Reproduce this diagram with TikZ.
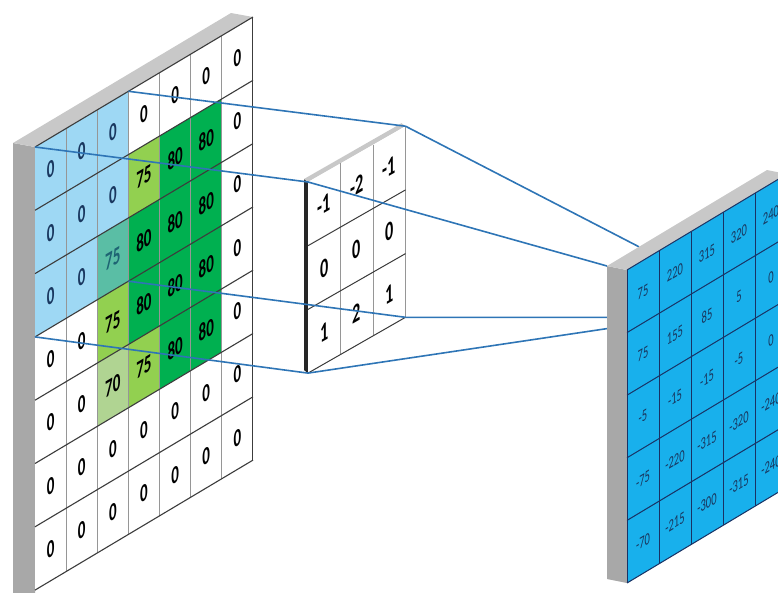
\documentclass[tikz,border=0pt]{standalone}
\usepackage{fontspec}
\setmainfont{Carlito}
\usepackage{xcolor}
\definecolor{linkblue}{RGB}{46, 117, 182}
\definecolor{fieldblue}{RGB}{158, 216, 244}
\definecolor{mapblue}{RGB}{24, 176, 236}
\definecolor{deepgreen}{RGB}{0, 176, 80}
\definecolor{limegreen}{RGB}{146, 208, 80}
\definecolor{tealmix}{RGB}{90, 190, 165}
\definecolor{sagegreen}{RGB}{176, 212, 146}
\definecolor{sidegray}{RGB}{168, 168, 168}
\definecolor{topgray}{RGB}{200, 200, 200}
\definecolor{colgray}{RGB}{150, 150, 150}
\definecolor{rowdark}{RGB}{60, 60, 60}
\definecolor{navytext}{RGB}{25, 55, 95}
\definecolor{tealtext}{RGB}{30, 100, 115}
\definecolor{mapline}{RGB}{25, 50, 100}
\usetikzlibrary{calc}

\begin{document}
\begin{tikzpicture}[x=1pt, y=-1pt,
    ingrid/.style={shift={(35,147)}, x={(31.14pt,18.57pt)}, y={(0pt,-63.3pt)}},
    kgrid/.style={shift={(308,182)}, x={(32.5pt,18.6pt)}, y={(0pt,-63.7pt)}},
    outgrid/.style={shift={(627,270)}, x={(32pt,19.2pt)}, y={(0pt,-62.6pt)}},
    incell/.style={cm={0.6,0.36,0,1,(0,0)}, inner sep=0pt, font=\fontsize{25}{25}\selectfont\bfseries},
    kcell/.style={cm={0.6,0.345,0,1,(0,0)}, inner sep=0pt, font=\fontsize{27}{27}\selectfont\bfseries},
    outcell/.style={cm={0.62,0.37,0,1,(0,0)}, inner sep=0pt, font=\fontsize{17}{17}\selectfont, text=navytext},
    link/.style={linkblue, line width=1.6pt}]
    \useasboundingbox (0,0) rectangle (778,592);
    \clip (0,0) rectangle (778,592);

    % Input image with receptive field
    \begin{scope}[ingrid]
        \fill[sidegray] (0,0) -- (0,7.2) -- ++(-22pt,4pt) -- (-22pt,4pt) -- cycle;
        \fill[topgray] (0,0) -- (7,0) -- ++(-22pt,4pt) -- (-22pt,4pt) -- cycle;
        \foreach \row [count=\r from 0] in {
            {0/fieldblue/navytext, 0/fieldblue/navytext, 0/fieldblue/navytext, 0/white/black, 0/white/black, 0/white/black, 0/white/black},
            {0/fieldblue/navytext, 0/fieldblue/navytext, 0/fieldblue/navytext, 75/limegreen/black, 80/deepgreen/black, 80/deepgreen/black, 0/white/black},
            {0/fieldblue/navytext, 0/fieldblue/navytext, 75/tealmix/tealtext, 80/deepgreen/black, 80/deepgreen/black, 80/deepgreen/black, 0/white/black},
            {0/white/black, 0/white/black, 75/limegreen/black, 80/deepgreen/black, 80/deepgreen/black, 80/deepgreen/black, 0/white/black},
            {0/white/black, 0/white/black, 70/sagegreen/black, 75/limegreen/black, 80/deepgreen/black, 80/deepgreen/black, 0/white/black},
            {0/white/black, 0/white/black, 0/white/black, 0/white/black, 0/white/black, 0/white/black, 0/white/black},
            {0/white/black, 0/white/black, 0/white/black, 0/white/black, 0/white/black, 0/white/black, 0/white/black}}{
            \foreach \v/\fc/\tc [count=\c from 0] in \row {
                \fill[\fc] (\c,\r) -- ++(1,0) -- ++(0,1) -- ++(-1,0) -- cycle;
                \node[incell, text=\tc] (in-\r-\c) at (\c+0.5,\r+0.5) {\v};
            }
        }
        \foreach \c in {1,...,6} \draw[colgray, line width=1pt] (\c,0) -- (\c,7);
        \draw[rowdark, line width=1pt] (7,0) -- (7,7);
        \foreach \r in {0,...,7} \draw[rowdark, line width=1.1pt] (0,\r) -- (7,\r);
        \coordinate (inA) at (0,0);
        \coordinate (inB) at (3,0);
        \coordinate (inC) at (3,3);
        \coordinate (inD) at (0,3);
    \end{scope}

    % Kernel
    \begin{scope}[kgrid]
        \fill[black!85] (0,0) -- (0,3) -- ++(-4pt,3pt) -- (-4pt,3pt) -- cycle;
        \fill[topgray] (0,0) -- (3,0) -- ++(-4pt,3pt) -- (-4pt,3pt) -- cycle;
        \fill[white] (0,0) -- (3,0) -- (3,3) -- (0,3) -- cycle;
        \foreach \c in {1,2,3} \draw[colgray, line width=1pt] (\c,0) -- (\c,3);
        \foreach \r in {1,2,3} \draw[rowdark, line width=1pt] (0,\r) -- (3,\r);
        \foreach \row [count=\r from 0] in {{-1,-2,-1},{0,0,0},{1,2,1}}{
            \foreach \v [count=\c from 0] in \row {
                \node[kcell] (k-\r-\c) at (\c+0.5,\r+0.5) {\v};
            }
        }
        \coordinate (kA) at (0,0);
        \coordinate (kB) at (3,0);
        \coordinate (kC) at (3,3);
        \coordinate (kD) at (0,3);
    \end{scope}

    % Output corners (back face of the first cell)
    \begin{scope}[outgrid]
        \coordinate (oA) at (-20pt,4pt);
        \coordinate (oB) at ($(1,0)+(-20pt,4pt)$);
        \coordinate (oC) at ($(1,1)+(-20pt,-4pt)$);
        \coordinate (oD) at ($(0,1)+(-20pt,4pt)$);
    \end{scope}

    % Projection lines
    \draw[link] (inB) -- (kB);
    \draw[link] (inA) -- (kA);
    \draw[link] (inC) -- (kC);
    \draw[link] (inD) -- (kD);
    \draw[link] (kB) -- (oB);
    \draw[link] (kA) -- (oA);
    \draw[link] (kC) -- (oC);
    \draw[link] (kD) -- (oD);

    % Feature map
    \begin{scope}[outgrid]
        \fill[sidegray] (0,0) -- (0,5) -- ++(-20pt,4pt) -- (-20pt,4pt) -- cycle;
        \fill[topgray] (0,0) -- (5,0) -- ++(-20pt,4pt) -- (-20pt,4pt) -- cycle;
        \fill[mapblue] (0,0) -- (5,0) -- (5,5) -- (0,5) -- cycle;
        \foreach \c in {0,...,5} \draw[mapline, line width=1pt] (\c,0) -- (\c,5);
        \foreach \r in {0,...,5} \draw[mapline, line width=1pt] (0,\r) -- (5,\r);
        \foreach \row [count=\r from 0] in {
            {75,220,315,320,240},
            {75,155,85,5,0},
            {-5,-15,-15,-5,0},
            {-75,-220,-315,-320,-240},
            {-70,-215,-300,-315,-240}}{
            \foreach \v [count=\c from 0] in \row {
                \node[outcell] (out-\r-\c) at (\c+0.5,\r+0.5) {\v};
            }
        }
    \end{scope}
\end{tikzpicture}
\end{document}
